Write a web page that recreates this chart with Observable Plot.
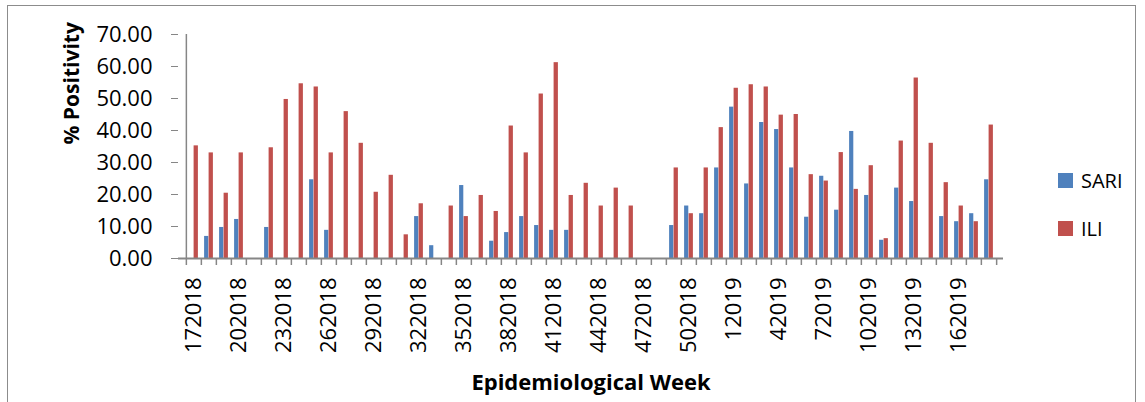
<!DOCTYPE html>
<html>
<head>
<meta charset="utf-8">
<script src="https://cdn.jsdelivr.net/npm/d3@7"></script>
<script src="https://cdn.jsdelivr.net/npm/@observablehq/plot@0.6"></script>
<style>
  html, body { margin: 0; padding: 0; background: #fff; overflow: hidden; }
  #wrap { position: relative; width: 1145px; height: 402px; font-family: "Open Sans", sans-serif; }
  #border { position: absolute; left: 7px; top: 5px; width: 1129px; height: 410px; border: 1px solid #8c8c8c; box-sizing: border-box; pointer-events: none; }
  #chart { position: absolute; left: 0; top: 0; }
  #legend { position: absolute; left: 1058px; top: 166px; font-family: "Open Sans", sans-serif; font-size: 20px; color: #000; }
  .item { display: flex; align-items: center; height: 28px; margin-bottom: 20px; }
  .sw { width: 15px; height: 15px; margin-right: 8px; }
</style>
</head>
<body>
<div id="wrap">
  <div id="border"></div>
  <div id="chart"></div>
  <div id="legend"></div>
</div>
<script>
const weeks = ["172018","182018","192018","202018","212018","222018","232018","242018","252018","262018",
  "272018","282018","292018","302018","312018","322018","332018","342018","352018","362018",
  "372018","382018","392018","402018","412018","422018","432018","442018","452018","462018",
  "472018","482018","492018","502018","512018","522018","12019","22019","32019","42019",
  "52019","62019","72019","82019","92019","102019","112019","122019","132019","142019",
  "152019","162019","172019","182019"];
const sari = [null,6.9,9.7,12.2,null,9.7,null,null,24.6,8.8,
  null,null,null,null,null,13.1,4.0,null,22.8,null,
  5.4,8.1,13.1,10.3,8.8,8.8,null,null,null,null,
  null,null,10.3,16.4,14.0,28.3,47.3,23.3,42.5,40.3,
  28.3,12.9,25.7,15.1,39.7,19.7,5.7,22.0,17.8,null,
  13.1,11.5,14.0,24.6];
const ili = [35.2,33.0,20.4,33.0,null,34.6,49.7,54.6,53.6,33.0,
  45.9,36.0,20.7,26.0,7.4,17.1,null,16.4,13.1,19.7,
  14.7,41.4,33.0,51.4,61.2,19.7,23.5,16.4,22.0,16.4,
  null,null,28.3,14.0,28.3,40.9,53.2,54.3,53.6,44.8,
  45.0,26.2,24.2,33.1,21.6,29.0,6.2,36.7,56.4,36.0,
  23.7,16.4,11.5,41.7];
const series = ["SARI", "ILI"];
const colors = ["#4F81BD", "#C0504D"];
const yTicks = [0, 10, 20, 30, 40, 50, 60, 70];
const labelWeeks = weeks.filter((d, i) => i % 3 === 0);
const xTitle = "Epidemiological Week";
const yTitle = "% Positivity";

const rows = weeks.map((w, i) => ({week: w, SARI: sari[i], ILI: ili[i]}));

const W = 1145, H = 402;
const mL = 178, mR = 142, mT = 34, mB = 144;
const bw = (W - mL - mR) / weeks.length;
const gray = "#868686";

const chart = Plot.plot({
  width: W,
  height: H,
  marginLeft: mL,
  marginRight: mR,
  marginTop: mT,
  marginBottom: mB,
  style: {fontFamily: "Open Sans, sans-serif", fontSize: "22px", color: "#000", background: "transparent"},
  x: {type: "band", domain: weeks, padding: 0},
  y: {domain: [0, 70]},
  marks: [
    Plot.barY(rows.filter(d => d.SARI != null), {x: "week", y: "SARI", fill: colors[0], insetLeft: 3.1, insetRight: 7.7}),
    Plot.barY(rows.filter(d => d.ILI != null), {x: "week", y: "ILI", fill: colors[1], insetLeft: 7.6, insetRight: 3.1}),
    Plot.ruleY([0], {stroke: gray, strokeWidth: 2}),
    Plot.ruleX([weeks[0]], {stroke: gray, strokeWidth: 1.5, dx: -bw / 2}),
    Plot.axisY({ticks: yTicks, tickFormat: d3.format(".2f"), tickSize: 7, tickPadding: 19, stroke: gray, fill: "#000", fontSize: 22, label: null}),
    Plot.axisX({ticks: weeks, tickSize: 7, stroke: gray, strokeWidth: 1.5, fill: "none", dx: -bw / 2, label: null}),
    Plot.axisX([weeks[weeks.length - 1]], {tickSize: 7, stroke: gray, strokeWidth: 1.5, fill: "none", dx: bw / 2, label: null}),
    Plot.axisX({ticks: labelWeeks, tickSize: 0, tickPadding: 19, tickRotate: -90, fill: "#000", fontSize: 22, label: null}),
    Plot.text([xTitle], {frameAnchor: "bottom", dy: 131, lineAnchor: "bottom", fontWeight: "bold", fontSize: 22, fill: "#000"}),
    Plot.text([yTitle], {frameAnchor: "left", dx: -106, dy: -2, rotate: -90, fontWeight: "bold", fontSize: 21, fill: "#000"})
  ]
});
document.getElementById("chart").appendChild(chart);

const legend = document.getElementById("legend");
series.forEach((s, i) => {
  const item = document.createElement("div");
  item.className = "item";
  const sw = document.createElement("div");
  sw.className = "sw";
  sw.style.background = colors[i];
  const t = document.createElement("span");
  t.textContent = s;
  item.appendChild(sw);
  item.appendChild(t);
  legend.appendChild(item);
});
</script>
</body>
</html>
